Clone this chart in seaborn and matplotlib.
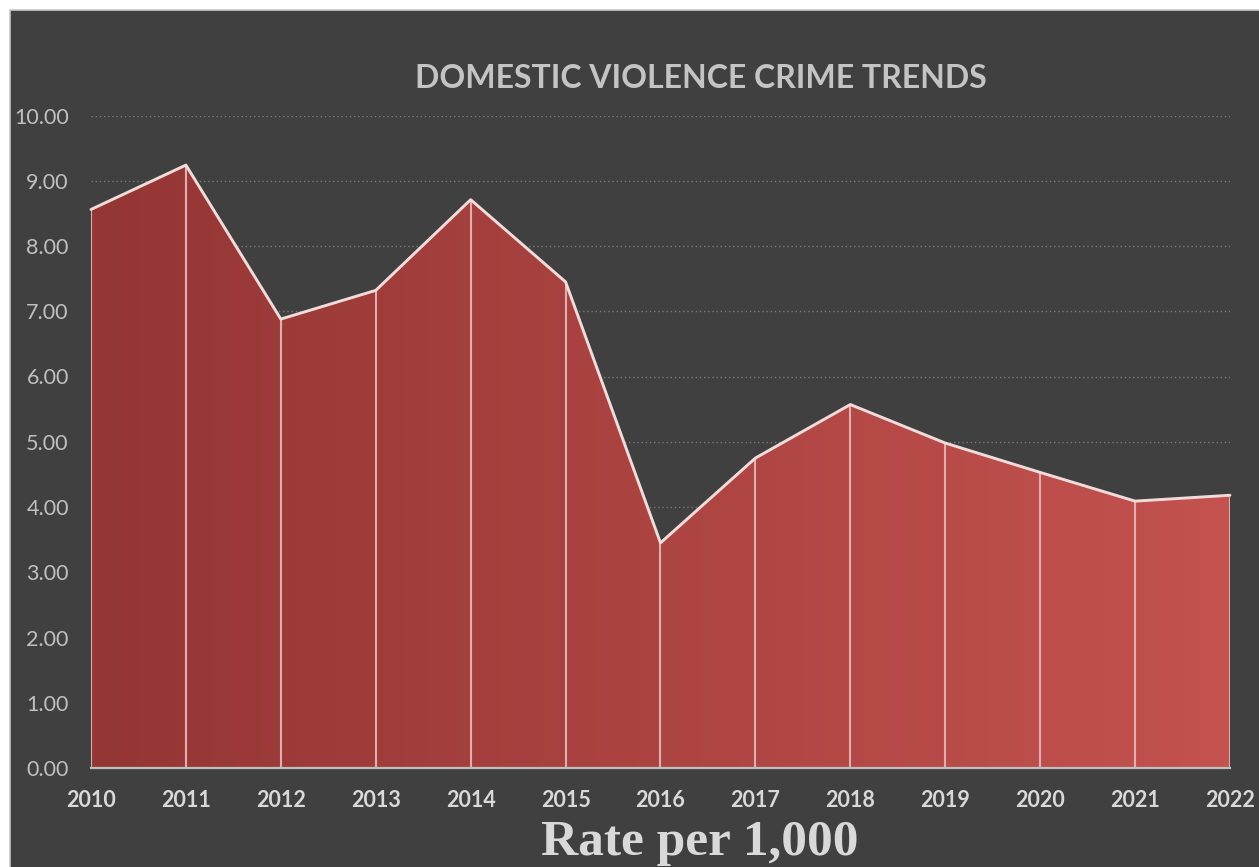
import numpy as np
import matplotlib
matplotlib.use("Agg")
import matplotlib.pyplot as plt
import seaborn as sns
from matplotlib.colors import LinearSegmentedColormap
from matplotlib.patches import Rectangle

# Domestic violence rate per 1,000 residents, by year
years = [2010, 2011, 2012, 2013, 2014, 2015, 2016, 2017, 2018, 2019, 2020, 2021, 2022]
rates = [8.56, 9.24, 6.88, 7.32, 8.71, 7.45, 3.45, 4.75, 5.57, 4.98, 4.53, 4.09, 4.18]
y_ticks = [0, 1, 2, 3, 4, 5, 6, 7, 8, 9, 10]
title_text = "DOMESTIC VIOLENCE CRIME TRENDS"
xlabel_text = "Rate per 1,000"

sns.set_theme(style="dark")
plt.rcParams["font.family"] = ["Lato", "DejaVu Sans"]

W, H = 1259, 867
fig = plt.figure(figsize=(W / 100, H / 100), dpi=100, facecolor="white")

# dark chart panel with thin light border
fig.patches.append(Rectangle((10 / W, -0.01), 1.02, 1 - 10 / H + 0.01,
                             transform=fig.transFigure, facecolor="#404040",
                             edgecolor="#C8C8C8", lw=1.2, zorder=-10))

ax = fig.add_axes([91 / W, 1 - 768 / H, (1230 - 91) / W, (768 - 115.5) / H])
ax.set_facecolor("none")
ax.set_xlim(years[0], years[-1])
ax.set_ylim(0, 10)

# dotted horizontal gridlines
ax.set_axisbelow(True)
ax.yaxis.grid(True, color="#7A7A7A", lw=1.0, linestyle=(0, (1, 2)))
ax.xaxis.grid(False)

# area with left-to-right gradient fill
area = ax.fill_between(years, rates, 0, facecolor="none", edgecolor="none")
cmap = LinearSegmentedColormap.from_list("reds", ["#943634", "#C4524F"])
grad = np.linspace(0, 1, 256).reshape(1, -1)
im = ax.imshow(grad, extent=[years[0], years[-1], 0, 10], aspect="auto",
               cmap=cmap, zorder=1, interpolation="bilinear")
im.set_clip_path(area.get_paths()[0], transform=ax.transData)

# vertical drop lines at each year
ax.vlines(years, 0, rates, color="#E0AEAD", lw=1.5, zorder=2)

# top outline
sns.lineplot(x=years, y=rates, ax=ax, color="#F2DCDB", lw=2.1, zorder=3,
             clip_on=False)

for side in ["top", "right", "left"]:
    ax.spines[side].set_visible(False)
ax.spines["bottom"].set_color("#BFBFBF")
ax.spines["bottom"].set_linewidth(1.6)
ax.spines["bottom"].set_zorder(4)

ax.set_yticks(y_ticks)
ax.set_yticklabels([f"{v:.2f}" for v in y_ticks])
ax.set_xticks(years)
ax.set_xticklabels([str(y) for y in years])
ax.tick_params(axis="y", length=0, pad=16, labelsize=15.5, labelcolor="#C0C0C0")
ax.tick_params(axis="x", length=0, pad=16, labelsize=15.5, labelcolor="#D9D9D9")
for lbl in ax.get_xticklabels():
    lbl.set_fontweight("bold")

ax.set_xlabel("")
ax.set_ylabel("")

fig.text(701 / W, 1 - 88 / H, title_text, ha="center", va="baseline",
         fontsize=23, fontweight="bold", color="#C4C4C4")
fig.text(700 / W, 1 - 855 / H, xlabel_text, ha="center", va="baseline",
         fontsize=37, fontweight="bold", color="#D9D9D9",
         family=["Liberation Serif"])

fig.savefig("out.png", dpi=100, facecolor="white")
